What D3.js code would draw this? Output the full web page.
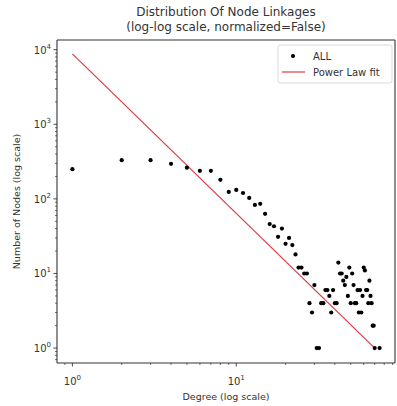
<!DOCTYPE html>
<html lang="en">
<head>
<meta charset="utf-8">
<title>Distribution Of Node Linkages</title>
<style>
  body { margin: 0; padding: 0; background: #fff; }
  svg { display: block; font-family: "DejaVu Sans", sans-serif; }
</style>
<script src="https://d3js.org/d3.v7.min.js"></script>
</head>
<body>
<div id="root"></div>
<script>
// degree -> number of nodes
var degrees = [1, 2, 3, 4, 5, 6, 7, 8, 9, 10, 11, 12, 13, 14, 15, 16, 17, 18, 19, 20,
  21, 22, 23, 24, 25, 26, 27, 28, 29, 30, 31, 32, 33, 34, 35, 36, 37, 38, 39, 40,
  41, 42, 43, 44, 45, 46, 47, 48, 49, 50, 51, 52, 53, 54, 55, 56, 57, 58, 59, 60,
  61, 62, 63, 64, 65, 66, 67, 68, 69, 70, 75];
var counts = [250, 330, 330, 295, 262, 238, 238, 180, 124, 132, 120, 103, 83, 86, 63, 46, 43, 31, 40, 25,
  30, 24, 18, 12, 12, 10, 10, 4, 3, 7, 1, 1, 4, 4, 6, 6, 5, 3, 6, 4,
  4, 14, 10, 10, 8, 7, 9, 5, 12, 4, 10, 7, 4, 4, 6, 3, 6, 3, 5, 12,
  11, 6, 6, 4, 8, 5, 4, 2, 2, 1, 1];

// power law fit end points
var fitDegrees = [1, 70];
var fitCounts = [8800, 1];

var xTicks = [1, 10];
var yTicks = [1, 10, 100, 1000, 10000];

var width = 397, height = 406;
var plot = {left: 57, right: 395, top: 40, bottom: 363};

var svg = d3.select("#root").append("svg")
    .attr("width", width)
    .attr("height", height);

var x = d3.scaleLog()
    .domain([Math.pow(10, -0.094), Math.pow(10, 1.969)])
    .range([plot.left, plot.right]);

var y = d3.scaleLog()
    .domain([Math.pow(10, -0.2), Math.pow(10, 4.13)])
    .range([plot.bottom, plot.top]);

function minorTicks(scale) {
  var d = scale.domain(), out = [];
  for (var e = -1; e <= 5; e++) {
    for (var m = 2; m <= 9; m++) {
      var v = m * Math.pow(10, e);
      if (v >= d[0] && v <= d[1]) out.push(v);
    }
  }
  return out;
}

function powerLabel(sel, v) {
  var p = Math.round(Math.log10(v));
  sel.append("tspan").text("10");
  sel.append("tspan").attr("dy", -5).style("font-size", "7px").text(p);
}

var ink = "#333";

// x axis
var gx = svg.append("g").attr("transform", "translate(0," + plot.bottom + ")");
gx.append("line").attr("x1", plot.left).attr("x2", plot.right)
    .attr("stroke", ink).attr("stroke-width", 1.1);
gx.selectAll(".minor").data(minorTicks(x)).enter().append("line")
    .attr("x1", function(d) { return x(d); }).attr("x2", function(d) { return x(d); })
    .attr("y1", 0).attr("y2", 2).attr("stroke", ink).attr("stroke-width", 0.7);
gx.selectAll(".major").data(xTicks).enter().append("line")
    .attr("x1", function(d) { return x(d); }).attr("x2", function(d) { return x(d); })
    .attr("y1", 0).attr("y2", 3.5).attr("stroke", ink).attr("stroke-width", 0.9);
gx.selectAll(".lab").data(xTicks).enter().append("text")
    .attr("x", function(d) { return x(d); })
    .attr("y", 22)
    .attr("text-anchor", "middle")
    .style("font-size", "10px").attr("fill", ink)
    .each(function(d) { powerLabel(d3.select(this), d); });

// y axis
var gy = svg.append("g").attr("transform", "translate(" + plot.left + ",0)");
gy.append("line").attr("y1", plot.top).attr("y2", plot.bottom)
    .attr("stroke", ink).attr("stroke-width", 1.1);
gy.selectAll(".minor").data(minorTicks(y)).enter().append("line")
    .attr("y1", function(d) { return y(d); }).attr("y2", function(d) { return y(d); })
    .attr("x1", 0).attr("x2", -2).attr("stroke", ink).attr("stroke-width", 0.7);
gy.selectAll(".major").data(yTicks).enter().append("line")
    .attr("y1", function(d) { return y(d); }).attr("y2", function(d) { return y(d); })
    .attr("x1", 0).attr("x2", -3.5).attr("stroke", ink).attr("stroke-width", 0.9);
gy.selectAll(".lab").data(yTicks).enter().append("text")
    .attr("x", -6)
    .attr("y", function(d) { return y(d) + 4; })
    .attr("text-anchor", "end")
    .style("font-size", "10px").attr("fill", ink)
    .each(function(d) { powerLabel(d3.select(this), d); });

// top and right spines
svg.append("line").attr("x1", plot.left).attr("x2", plot.right)
    .attr("y1", plot.top).attr("y2", plot.top).attr("stroke", ink).attr("stroke-width", 1.1);
svg.append("line").attr("x1", plot.right).attr("x2", plot.right)
    .attr("y1", plot.top).attr("y2", plot.bottom).attr("stroke", ink).attr("stroke-width", 1.1);

// fit line
var fit = fitDegrees.map(function(d, i) { return [d, fitCounts[i]]; });
svg.append("path")
    .datum(fit)
    .attr("fill", "none")
    .attr("stroke", "#e0393e")
    .attr("stroke-width", 1.2)
    .attr("d", d3.line()
      .x(function(d) { return x(d[0]); })
      .y(function(d) { return y(d[1]); }));

// points
svg.append("g").selectAll("circle")
    .data(degrees.map(function(d, i) { return [d, counts[i]]; }))
    .enter().append("circle")
    .attr("cx", function(d) { return x(d[0]); })
    .attr("cy", function(d) { return y(d[1]); })
    .attr("r", 2.1)
    .attr("fill", "#000");

// legend
var lg = svg.append("g").attr("transform", "translate(278,45)");
lg.append("rect").attr("width", 114).attr("height", 38).attr("rx", 2.5)
    .attr("fill", "#fff").attr("fill-opacity", 0.8)
    .attr("stroke", "#d6d6d6").attr("stroke-width", 0.9);
lg.append("circle").attr("cx", 15).attr("cy", 11).attr("r", 2.1).attr("fill", "#000");
lg.append("text").attr("x", 35).attr("y", 15).style("font-size", "10px").attr("fill", ink).text("ALL");
lg.append("line").attr("x1", 4).attr("x2", 27).attr("y1", 27).attr("y2", 27)
    .attr("stroke", "#e0393e").attr("stroke-width", 1.2);
lg.append("text").attr("x", 35).attr("y", 31).style("font-size", "10px").attr("fill", ink).text("Power Law fit");

// titles and axis labels
var cx = (plot.left + plot.right) / 2;
svg.append("text").attr("x", cx).attr("y", 16).attr("text-anchor", "middle")
    .style("font-size", "12px").attr("fill", ink).text("Distribution Of Node Linkages");
svg.append("text").attr("x", cx).attr("y", 31).attr("text-anchor", "middle")
    .style("font-size", "12px").attr("fill", ink).text("(log-log scale, normalized=False)");
svg.append("text").attr("x", cx).attr("y", 400).attr("text-anchor", "middle")
    .style("font-size", "9.5px").attr("fill", ink).text("Degree (log scale)");
svg.append("text")
    .attr("transform", "translate(20," + ((plot.top + plot.bottom) / 2) + ") rotate(-90)")
    .attr("text-anchor", "middle")
    .style("font-size", "9.5px").attr("fill", ink).text("Number of Nodes (log scale)");
</script>
</body>
</html>
